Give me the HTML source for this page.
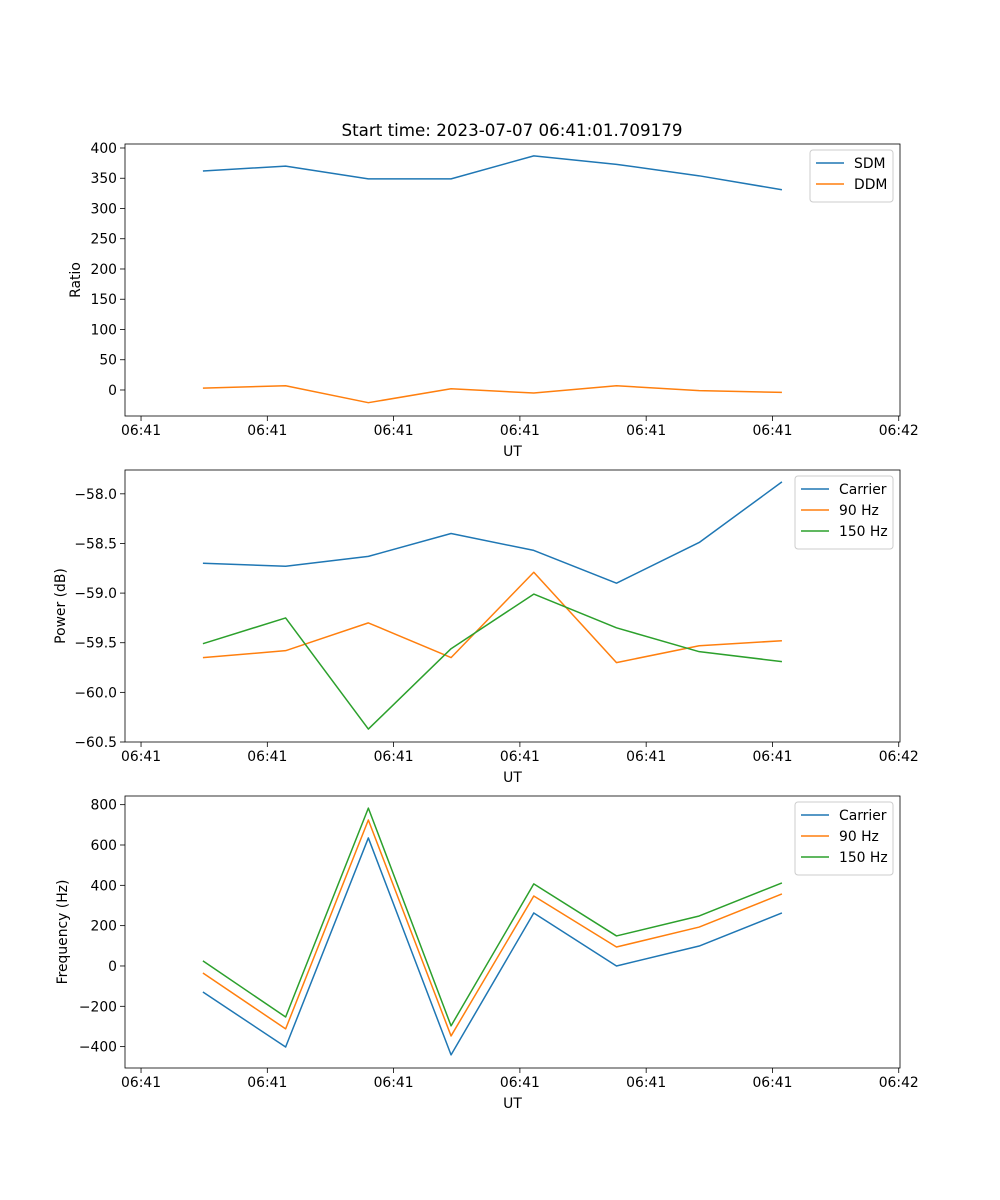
<!DOCTYPE html>
<html><head><meta charset="utf-8"><style>
body{margin:0;background:#fff}
svg{display:block;font-family:"DejaVu Sans","Liberation Sans",sans-serif}
</style></head><body>
<svg id="fig" width="1000" height="1200" viewBox="0 0 1000 1200"></svg>
<script>
// time in seconds after 06:41:00
const times = [4.9, 11.45, 18.0, 24.55, 31.1, 37.65, 44.2, 50.75];
const xTickVals = [0, 10, 20, 30, 40, 50, 60];
const xTickLabels = ["06:41","06:41","06:41","06:41","06:41","06:41","06:42"];
const sdm = [362, 370, 349, 349, 387, 373, 354, 331];
const ddm = [3, 7, -21, 2, -5, 7, -1, -4];
const powCarrier = [-58.70, -58.73, -58.63, -58.40, -58.57, -58.90, -58.49, -57.88];
const pow90 = [-59.65, -59.58, -59.30, -59.65, -58.79, -59.70, -59.53, -59.48];
const pow150 = [-59.51, -59.25, -60.37, -59.56, -59.01, -59.35, -59.59, -59.69];
const freqCarrier = [-129, -402, 635, -441, 263, 0, 99, 263];
const freq90 = [-35, -312, 724, -347, 347, 94, 193, 357];
const freq150 = [25, -253, 783, -297, 407, 149, 248, 412];
const ratioTicks = [0, 50, 100, 150, 200, 250, 300, 350, 400];
const powTicks = [-60.5, -60.0, -59.5, -59.0, -58.5, -58.0];
const powTickLabels = ["\u221260.5","\u221260.0","\u221259.5","\u221259.0","\u221258.5","\u221258.0"];
const freqTicks = [-400, -200, 0, 200, 400, 600, 800];

const NS = "http://www.w3.org/2000/svg";
const svg = document.getElementById("fig");
function el(tag, attrs, parent, text){
  const e = document.createElementNS(NS, tag);
  for (const k in attrs) e.setAttribute(k, attrs[k]);
  if (text !== undefined) e.textContent = text;
  (parent || svg).appendChild(e);
  return e;
}
const L = 125, R = 900, xmin = -1.27, xmax = 60.1;
const xs = t => L + (t - xmin) / (xmax - xmin) * (R - L);

function panel(name, top, bottom, ymin, ymax, yTicks, yLabels, ylabel, series, legendW, ylabX){
  const g = el("g", {}, svg);
  
  
  const ys = v => bottom - (v - ymin) / (ymax - ymin) * (bottom - top);
  series.forEach(s => {
    const pts = s.vals.map((v, i) => xs(times[i]).toFixed(2) + "," + ys(v).toFixed(2)).join(" ");
    const p = el("polyline", {points: pts, fill: "none", stroke: s.color, "stroke-width": 1.5, "stroke-linejoin": "round"}, g);
    
    
  });
  const frame = el("rect", {x: L, y: top, width: R - L, height: bottom - top, fill: "none", stroke: "#000", "stroke-width": 0.8}, g);
  
  
  xTickVals.forEach((t, i) => {
    const x = xs(t);
    el("line", {x1: x, x2: x, y1: bottom, y2: bottom + 5, stroke: "#000", "stroke-width": 0.8}, g);
    const tl = el("text", {x: x, y: bottom + 19, "font-size": 13.9, "text-anchor": "middle"}, g, xTickLabels[i]);
    
    
  });
  const xl = el("text", {x: (L + R) / 2, y: bottom + 40, "font-size": 13.9, "text-anchor": "middle"}, g, "UT");
  
  
  yTicks.forEach((v, i) => {
    const y = ys(v);
    el("line", {x1: L - 5, x2: L, y1: y, y2: y, stroke: "#000", "stroke-width": 0.8}, g);
    const tl = el("text", {x: L - 8, y: y + 5, "font-size": 13.9, "text-anchor": "end"}, g, yLabels[i]);
    
    
  });
  const yl = el("text", {x: ylabX, y: (top + bottom) / 2, "font-size": 13.9, "text-anchor": "middle", transform: `rotate(-90 ${ylabX} ${(top + bottom) / 2})`}, g, ylabel);
  
  
  const lx = R - 7 - legendW, ly = top + 6, lh = 10 + series.length * 21;
  const lg = el("g", {}, g);
  
  
  el("rect", {x: lx, y: ly, width: legendW, height: lh, rx: 3, fill: "#fff", "fill-opacity": 0.8, stroke: "#ccc", "stroke-width": 1}, lg);
  series.forEach((s, i) => {
    const y = ly + 13 + i * 21;
    el("line", {x1: lx + 6, x2: lx + 34, y1: y, y2: y, stroke: s.color, "stroke-width": 1.5}, lg);
    const t = el("text", {x: lx + 44, y: y + 5, "font-size": 13.9}, lg, s.label);
    
    
  });
}
const title = el("text", {x: 512, y: 136, "font-size": 16.7, "text-anchor": "middle"}, svg, "Start time: 2023-07-07 06:41:01.709179");



panel("ratio-panel", 144, 416, -43, 406.6, ratioTicks, ratioTicks.map(String), "Ratio",
  [{key:"sdm", label:"SDM", vals:sdm, color:"#1f77b4"}, {key:"ddm", label:"DDM", vals:ddm, color:"#ff7f0e"}], 83, 80);
panel("power-panel", 470, 742, -60.5, -57.76, powTicks, powTickLabels, "Power (dB)",
  [{key:"carrier", label:"Carrier", vals:powCarrier, color:"#1f77b4"}, {key:"90hz", label:"90 Hz", vals:pow90, color:"#ff7f0e"}, {key:"150hz", label:"150 Hz", vals:pow150, color:"#2ca02c"}], 98, 65);
panel("frequency-panel", 796, 1068, -506, 843, freqTicks, freqTicks.map(v => v < 0 ? "\u2212" + Math.abs(v) : String(v)), "Frequency (Hz)",
  [{key:"carrier", label:"Carrier", vals:freqCarrier, color:"#1f77b4"}, {key:"90hz", label:"90 Hz", vals:freq90, color:"#ff7f0e"}, {key:"150hz", label:"150 Hz", vals:freq150, color:"#2ca02c"}], 98, 67);
</script>
</body></html>
